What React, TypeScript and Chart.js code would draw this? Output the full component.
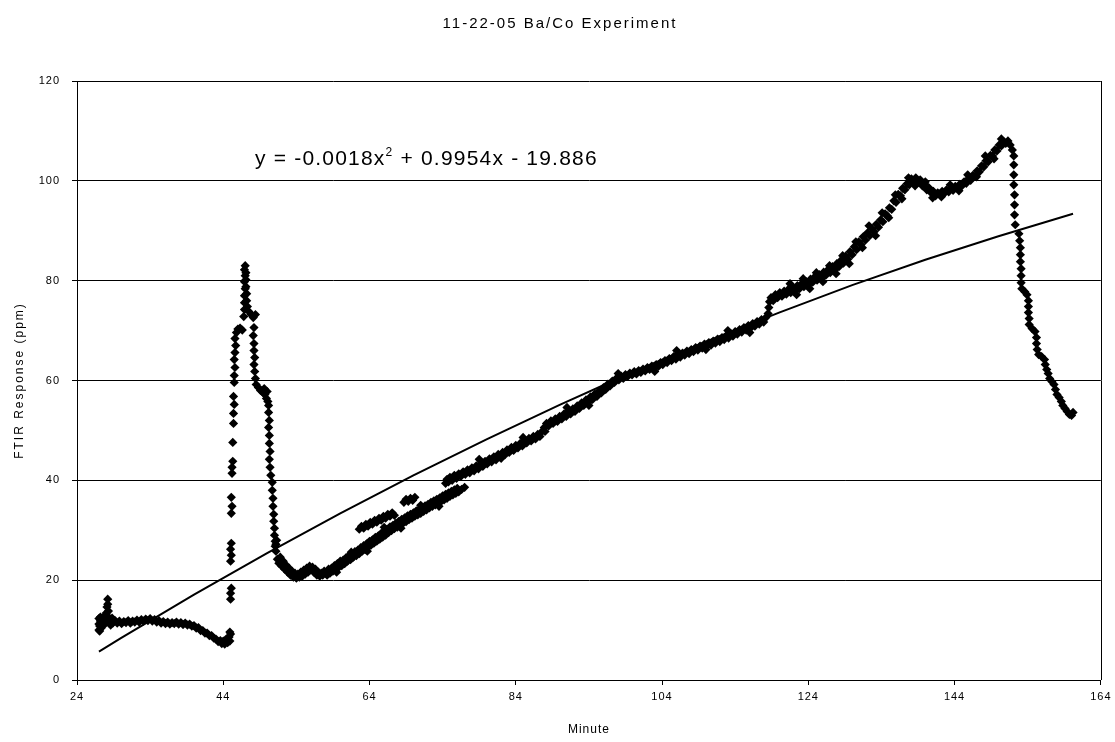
import { useEffect, useRef } from 'react';
import { Chart, registerables } from 'chart.js';

Chart.register(...registerables);

const chartTitle = '11-22-05 Ba/Co Experiment';
const xAxisTitle = 'Minute';
const yAxisTitle = 'FTIR Response (ppm)';
const equationMain = 'y = -0.0018x';
const equationSup = '2';
const equationRest = ' + 0.9954x - 19.886';
const xTicks = [24, 44, 64, 84, 104, 124, 144, 164];
const yTicks = [0, 20, 40, 60, 80, 100, 120];

type P = [number, number];

const startCluster: P[] = [
  [27.0, 10.0], [27.0, 11.2], [27.0, 12.3], [27.1, 9.8], [27.1, 10.8], [27.2, 11.8], [27.2, 12.6],
  [27.3, 10.4], [27.4, 11.4], [27.5, 12.4], [27.6, 10.9], [27.7, 11.9], [27.8, 12.8], [27.9, 11.6],
  [28.0, 13.4], [28.1, 14.6], [28.2, 16.2], [28.2, 15.2], [28.3, 13.8], [28.3, 12.6], [28.4, 11.4],
  [28.5, 12.2], [28.6, 11.0], [28.7, 11.8], [28.8, 12.4], [28.9, 11.4], [29.0, 12.0],
];

const baseline: P[] = [
  [29.2, 11.9], [29.5, 11.4], [29.8, 11.8], [30.1, 11.3], [30.4, 11.7], [30.7, 11.5], [31.0, 11.9],
  [31.3, 11.4], [31.6, 11.8], [31.9, 11.6], [32.2, 12.0], [32.5, 11.6], [32.8, 12.1], [33.1, 11.8],
  [33.4, 12.2], [33.7, 11.9], [34.0, 12.3], [34.3, 11.8], [34.6, 12.1], [34.9, 11.6], [35.2, 11.9],
  [35.5, 11.4], [35.8, 11.7], [36.1, 11.3], [36.4, 11.6], [36.7, 11.2], [37.0, 11.5], [37.3, 11.3],
  [37.6, 11.6], [37.9, 11.2], [38.2, 11.5], [38.5, 11.1], [38.8, 11.4], [39.1, 11.0], [39.4, 11.2],
  [39.7, 10.8], [40.0, 10.9], [40.3, 10.4], [40.6, 10.5], [40.9, 9.9], [41.2, 9.9], [41.5, 9.4],
  [41.8, 9.4], [42.1, 8.9], [42.4, 8.9], [42.7, 8.4], [43.0, 8.2], [43.3, 7.7], [43.6, 7.9],
  [43.8, 7.3], [44.0, 7.8], [44.2, 7.2], [44.4, 8.2], [44.6, 7.5], [44.8, 8.6], [44.9, 7.8],
  [45.0, 9.2], [44.9, 9.6],
];

const spikeRise: P[] = [
  [45.0, 16.2], [45.0, 17.4], [45.1, 18.4], [45.0, 23.8], [45.1, 25.0], [45.0, 26.2], [45.1, 27.4],
  [45.1, 33.4], [45.2, 34.8], [45.1, 36.6], [45.2, 41.4], [45.2, 42.6], [45.3, 43.8], [45.3, 47.6],
  [45.4, 51.4], [45.4, 53.4], [45.5, 55.2], [45.4, 56.8], [45.5, 59.6], [45.5, 61.0], [45.6, 62.6],
  [45.5, 64.2], [45.6, 65.6], [45.7, 67.0], [45.6, 68.4], [45.8, 69.6], [46.0, 70.3], [46.3, 70.5],
  [46.6, 70.1],
];

const spikePeak: P[] = [
  [46.8, 72.8], [46.9, 74.2], [46.9, 75.6], [46.9, 77.0], [47.0, 78.4], [46.9, 79.8], [47.0, 81.0],
  [46.9, 82.2], [47.0, 83.0], [47.1, 81.6], [47.1, 80.2], [47.1, 78.8], [47.2, 77.4], [47.2, 76.0],
  [47.3, 74.8], [47.5, 73.8], [47.8, 73.2], [48.1, 72.6], [48.4, 73.2],
];

const spikeFall: P[] = [
  [48.2, 70.6], [48.1, 69.0], [48.2, 67.4], [48.2, 66.0], [48.3, 64.6], [48.2, 63.2], [48.3, 61.8],
  [48.4, 60.4], [48.5, 59.2], [48.8, 58.6], [49.1, 58.0], [49.4, 57.6], [49.7, 57.2], [49.9, 56.4],
  [50.1, 55.8], [49.6, 58.4], [50.0, 57.8],
  [50.2, 55.0], [50.2, 53.6], [50.3, 52.0], [50.2, 50.6], [50.3, 49.0], [50.3, 47.4], [50.4, 45.8],
  [50.3, 44.2], [50.4, 42.6], [50.5, 41.0], [50.7, 39.6], [50.7, 38.0], [50.8, 36.4], [50.8, 34.8],
  [50.9, 33.2], [50.9, 31.8], [51.0, 30.4], [51.0, 29.0], [51.1, 27.8], [51.1, 26.8], [51.2, 25.8],
  [51.2, 27.2], [51.3, 28.0],
];

const valley: P[] = [
  [51.4, 24.2], [51.6, 23.4], [51.8, 24.6], [52.0, 22.8], [52.2, 23.8], [52.4, 22.2], [52.6, 23.0],
  [52.8, 21.6], [53.0, 22.4], [53.2, 21.0], [53.4, 21.8], [53.6, 20.6], [53.8, 21.4], [54.0, 20.4],
  [54.2, 21.2], [54.4, 20.6], [54.6, 21.6], [54.8, 20.8], [55.0, 22.0], [55.2, 21.2], [55.4, 22.4],
  [55.6, 21.6], [55.8, 22.8], [56.0, 22.0], [56.2, 22.6], [56.4, 21.6], [56.6, 22.2], [56.8, 21.0],
  [57.0, 21.6], [57.2, 20.8], [57.4, 21.4], [57.6, 21.0], [57.8, 21.8], [58.0, 21.4],
];

const lowerRise: P[] = [
  [58.2, 21.0], [58.4, 22.2], [58.6, 21.4], [58.8, 22.4], [59.0, 21.8], [59.2, 22.9], [59.4, 22.2],
  [59.6, 23.3], [59.8, 22.6], [60.0, 23.8], [60.2, 22.9], [60.4, 24.0], [60.6, 23.3], [60.8, 24.5],
  [61.0, 23.8], [61.2, 24.9], [61.4, 24.1], [61.6, 25.2], [61.8, 24.6], [62.0, 25.7], [62.2, 24.9],
  [62.4, 26.0], [62.6, 25.3], [62.8, 26.5], [63.0, 25.8], [63.2, 26.9], [63.4, 26.1], [63.6, 27.3],
  [63.8, 26.6], [64.0, 27.8], [64.2, 27.0], [64.4, 28.1], [64.6, 27.4], [64.8, 28.6], [65.0, 27.8],
  [65.2, 28.9], [65.4, 28.2], [65.6, 29.4], [65.8, 28.6], [66.0, 29.8], [66.2, 29.0], [66.4, 30.2],
  [66.6, 29.5], [66.8, 30.7], [67.0, 29.9], [67.2, 31.0], [67.4, 30.3], [67.6, 31.4], [67.8, 30.6],
  [68.0, 31.8], [68.2, 31.0], [68.4, 32.2], [68.6, 31.4], [68.8, 32.5], [69.0, 31.7], [69.2, 32.9],
  [69.4, 32.1], [69.6, 33.2], [69.8, 32.4], [70.0, 33.5], [70.2, 32.8], [70.4, 33.9], [70.6, 33.1],
  [70.8, 34.2], [71.0, 33.4], [71.2, 34.6], [71.4, 33.8], [71.6, 34.9], [71.8, 34.1], [72.0, 35.2],
  [72.2, 34.5], [72.4, 35.6], [72.6, 34.8], [72.8, 35.9], [73.0, 35.1], [73.2, 36.2], [73.4, 35.5],
  [73.6, 36.5], [73.8, 35.8], [74.0, 36.9], [74.2, 36.1], [74.4, 37.2], [74.6, 36.4], [74.8, 37.5],
  [75.0, 36.8], [75.2, 37.8], [75.4, 37.1], [75.6, 38.1], [75.8, 37.4], [76.0, 38.4], [76.2, 37.7],
  [76.6, 38.2], [77.0, 38.6],
];

const upperBlobs: P[] = [
  [62.6, 30.2], [62.9, 30.8], [63.2, 30.4], [63.5, 31.2], [63.8, 30.8], [64.1, 31.6], [64.4, 31.2],
  [64.7, 32.0], [65.0, 31.6], [65.3, 32.4], [65.6, 32.0], [65.9, 32.8], [66.2, 32.4], [66.5, 33.2],
  [66.8, 32.8], [67.1, 33.5], [67.4, 33.0],
  [68.7, 35.6], [69.0, 36.2], [69.3, 35.8], [69.6, 36.4], [69.9, 36.0], [70.2, 36.6],
];

const mainRise: P[] = [
  [74.4, 39.4], [74.6, 40.2], [74.8, 39.7], [75.0, 40.6], [75.3, 40.0], [75.6, 41.0], [75.9, 40.4],
  [76.2, 41.3], [76.5, 40.8], [76.8, 41.7], [77.1, 41.2], [77.4, 42.1], [77.7, 41.5], [78.0, 42.5],
  [78.3, 41.9], [78.6, 42.9], [78.9, 42.3], [79.2, 43.3], [79.5, 42.8], [79.8, 43.8], [80.1, 43.3],
  [80.4, 44.3], [80.7, 43.7], [81.0, 44.7], [81.3, 44.1], [81.6, 45.2], [81.9, 44.6], [82.2, 45.6],
  [82.5, 45.1], [82.8, 46.1], [83.1, 45.6], [83.4, 46.6], [83.7, 46.0], [84.0, 47.0], [84.3, 46.5],
  [84.6, 47.4], [84.9, 46.9], [85.2, 47.9], [85.5, 47.5], [85.8, 48.4], [86.1, 47.9], [86.4, 48.8],
  [86.7, 48.3], [87.0, 49.2], [87.3, 48.8], [87.6, 49.8], [87.9, 50.6], [88.2, 51.4], [88.5, 50.9],
  [88.8, 51.9], [89.1, 51.4], [89.4, 52.3], [89.7, 51.8], [90.0, 52.8], [90.3, 52.3], [90.6, 53.3],
  [90.9, 52.8], [91.2, 53.8], [91.5, 53.3], [91.8, 54.3], [92.1, 53.8], [92.4, 54.9], [92.7, 54.4],
  [93.0, 55.5], [93.3, 55.0], [93.6, 56.1], [93.9, 55.6], [94.2, 56.7], [94.5, 56.2], [94.8, 57.3],
  [95.1, 56.8], [95.4, 57.9], [95.7, 57.5], [96.0, 58.6], [96.3, 58.2], [96.6, 59.3], [96.9, 58.9],
  [97.2, 59.9], [97.5, 59.6], [97.8, 60.5], [98.1, 60.1], [98.4, 60.9], [98.7, 60.4], [99.0, 61.2],
  [99.3, 60.8], [99.6, 61.5], [99.9, 61.1], [100.2, 61.8], [100.5, 61.3], [100.8, 62.0], [101.1, 61.6],
  [101.4, 62.3], [101.7, 61.9], [102.0, 62.6], [102.3, 62.2], [102.6, 62.9], [102.9, 62.5], [103.2, 63.2],
  [103.5, 62.8], [103.8, 63.6], [104.1, 63.2], [104.4, 64.0], [104.7, 63.6], [105.0, 64.4], [105.3, 64.0],
  [105.6, 64.8], [105.9, 64.3], [106.2, 65.1], [106.5, 64.7], [106.8, 65.5], [107.1, 65.1], [107.4, 65.9],
  [107.7, 65.4], [108.0, 66.2], [108.3, 65.8], [108.6, 66.6], [108.9, 66.1], [109.2, 66.9], [109.5, 66.5],
  [109.8, 67.3], [110.1, 66.8], [110.4, 67.6], [110.7, 67.1], [111.0, 67.9], [111.3, 67.5], [111.6, 68.3],
  [111.9, 67.8], [112.2, 68.6], [112.5, 68.2], [112.8, 69.0], [113.1, 68.5], [113.4, 69.4], [113.7, 68.9],
  [114.0, 69.8], [114.3, 69.3], [114.6, 70.2], [114.9, 69.7], [115.2, 70.6], [115.5, 70.1], [115.8, 71.0],
  [116.1, 70.5], [116.4, 71.4], [116.7, 70.9], [117.0, 71.8], [117.3, 71.3], [117.6, 72.2], [117.9, 71.7],
  [118.2, 72.6],
];

const stepUp: P[] = [
  [118.5, 73.4], [118.6, 74.6], [118.7, 75.8], [118.9, 76.6], [119.2, 76.0], [119.5, 77.2],
];

const upperRise: P[] = [
  [119.8, 76.6], [120.1, 77.6], [120.4, 76.9], [120.7, 77.9], [121.0, 77.3], [121.3, 78.3], [121.6, 77.6],
  [121.9, 78.7], [122.2, 78.0], [122.5, 79.0], [122.8, 78.4], [123.1, 79.4], [123.4, 78.8], [123.7, 79.8],
  [124.0, 79.2], [124.3, 80.3], [124.6, 79.7], [124.9, 80.8], [125.2, 80.1], [125.5, 81.2], [125.8, 80.6],
  [126.1, 81.7], [126.4, 81.1], [126.7, 82.2], [127.0, 81.6], [127.3, 82.8], [127.6, 82.2], [127.9, 83.4],
  [128.2, 82.8], [128.5, 84.1], [128.8, 83.5], [129.1, 84.9], [129.4, 84.3], [129.7, 85.8], [130.0, 85.2],
  [130.3, 86.8], [130.6, 86.2], [130.9, 87.8], [131.2, 87.2], [131.5, 88.8], [131.8, 88.1], [132.1, 89.6],
  [132.4, 89.0], [132.7, 90.4], [133.0, 89.8], [133.3, 91.3], [133.6, 90.7], [133.9, 92.2], [134.2, 91.8],
  [134.5, 93.4], [134.8, 93.0], [135.1, 94.6], [135.4, 94.3], [135.7, 96.0], [136.0, 95.7], [136.3, 97.3],
  [136.6, 97.0], [136.9, 98.5], [137.2, 98.2], [137.5, 99.4], [137.8, 99.2], [138.1, 100.4], [138.4, 99.8],
  [138.7, 100.6], [139.0, 99.7], [139.3, 100.2], [139.6, 99.0], [139.9, 99.4], [140.2, 98.2], [140.5, 98.6],
  [140.8, 97.6], [141.1, 97.9], [141.4, 97.0], [141.7, 97.6], [142.0, 97.2], [142.3, 97.9], [142.6, 97.5],
  [142.9, 98.2], [143.2, 97.8], [143.5, 98.5], [143.8, 98.1], [144.1, 98.9], [144.4, 98.5], [144.7, 99.3],
  [145.0, 99.0], [145.3, 99.8], [145.6, 99.5], [145.9, 100.4], [146.2, 100.1], [146.5, 101.1], [146.8, 100.9],
  [147.1, 102.0], [147.4, 101.8], [147.7, 103.0], [148.0, 102.8], [148.3, 104.0], [148.6, 103.8], [148.9, 105.1],
  [149.2, 105.0], [149.5, 106.2], [149.8, 106.0], [150.1, 107.2], [150.4, 107.0], [150.7, 107.9], [151.0, 107.5],
  [151.3, 108.0], [151.6, 107.2], [151.9, 106.2],
];

const bandScatter: P[] = [
  [59.5, 21.6], [61.5, 25.6], [63.7, 25.8], [66.0, 30.6], [68.3, 30.4], [71.0, 35.0], [73.5, 34.8],
  [79.0, 44.2], [82.0, 44.4], [85.0, 48.6], [88.0, 49.8], [91.0, 54.6], [94.0, 55.0], [98.0, 61.4],
  [103.0, 61.8], [106.0, 66.0], [110.0, 66.2], [113.0, 70.0], [116.0, 69.6],
  [121.5, 79.4], [122.4, 77.2], [123.3, 80.4], [124.2, 78.4], [125.1, 81.6], [126.0, 79.8], [126.9, 83.0],
  [127.8, 81.4], [128.7, 85.0], [129.6, 83.4], [130.5, 87.8], [131.4, 86.6], [132.3, 91.0], [133.2, 89.0],
  [134.1, 93.6], [135.0, 92.6], [135.9, 97.2], [136.8, 96.4], [137.7, 100.6], [138.6, 99.0], [140.0, 99.8],
  [141.0, 96.6], [142.2, 96.8], [143.4, 99.2], [144.6, 98.0], [145.8, 101.2], [147.0, 100.8], [148.2, 105.0],
  [149.4, 104.4], [150.4, 108.4],
];

const finalDrop: P[] = [
  [152.1, 105.0], [152.1, 103.2], [152.1, 101.2], [152.1, 99.2], [152.2, 97.2], [152.2, 95.2], [152.2, 93.2],
  [152.3, 91.2], [152.8, 89.4], [152.9, 88.0], [153.0, 86.6], [153.0, 85.2], [153.0, 83.8], [153.1, 82.4],
  [153.1, 81.0], [153.1, 79.6], [153.2, 78.4], [153.6, 77.8], [153.9, 77.2], [154.1, 76.0], [154.1, 74.8],
  [154.1, 73.6], [154.2, 72.4], [154.2, 71.2], [154.6, 70.4], [155.0, 69.8], [155.2, 68.6], [155.2, 67.4],
  [155.3, 66.2], [155.5, 65.2], [155.9, 64.8], [156.3, 64.2], [156.4, 63.2], [156.6, 62.2], [156.8, 61.4],
  [157.0, 60.4], [157.3, 59.8], [157.6, 59.2], [157.8, 58.2], [158.0, 57.2], [158.3, 56.6], [158.6, 55.8],
  [158.8, 55.0], [159.1, 54.4], [159.4, 53.8], [159.7, 53.2], [160.0, 53.0], [160.2, 53.6],
];

const trendline: P[] = [
  [27.0, 5.7], [30, 8.4], [40, 17.1], [50, 25.4], [60, 33.4], [70, 41.0], [80, 48.2], [90, 55.1],
  [100, 61.7], [110, 67.8], [120, 73.6], [130, 79.1], [140, 84.2], [150, 88.9], [160.2, 93.4],
];

const FONT = '"Liberation Sans", Arial, Helvetica, sans-serif';

const toXY = (arr: P[]) => arr.map(([x, y]) => ({ x, y }));

const textPlugin = {
  id: 'textPlugin',
  beforeDraw(chart: any) {
    chart.ctx.letterSpacing = '1px';
  },
  afterDraw(chart: any) {
    const { ctx, chartArea } = chart;
    ctx.save();
    ctx.strokeStyle = '#000';
    ctx.lineWidth = 1;
    const rx = Math.round(chartArea.right) + 0.5;
    ctx.beginPath();
    ctx.moveTo(rx, chartArea.top);
    ctx.lineTo(rx, chartArea.bottom);
    ctx.stroke();

    ctx.fillStyle = '#000';
    ctx.textAlign = 'center';
    ctx.textBaseline = 'middle';
    ctx.font = `15px ${FONT}`;
    ctx.letterSpacing = '2px';
    ctx.fillText(chartTitle, 560, 24);

    ctx.font = `12px ${FONT}`;
    ctx.letterSpacing = '1px';
    ctx.fillText(xAxisTitle, (chartArea.left + chartArea.right) / 2, 730);

    ctx.save();
    ctx.translate(20, (chartArea.top + chartArea.bottom) / 2);
    ctx.rotate(-Math.PI / 2);
    ctx.letterSpacing = '2px';
    ctx.fillText(yAxisTitle, 0, 0);
    ctx.restore();

    ctx.textAlign = 'left';
    ctx.textBaseline = 'alphabetic';
    ctx.letterSpacing = '1.2px';
    let x = 255;
    const base = 165;
    ctx.font = `21px ${FONT}`;
    ctx.fillText(equationMain, x, base);
    x += ctx.measureText(equationMain).width;
    ctx.font = `12px ${FONT}`;
    ctx.fillText(equationSup, x, base - 9);
    x += ctx.measureText(equationSup).width;
    ctx.font = `21px ${FONT}`;
    ctx.fillText(equationRest, x, base);
    ctx.restore();
    ctx.letterSpacing = '0px';
  },
};

export default function App() {
  const canvasRef = useRef<HTMLCanvasElement | null>(null);

  useEffect(() => {
    if (!canvasRef.current) return;
    const scatterData = [
      ...startCluster, ...baseline, ...spikeRise, ...spikePeak, ...spikeFall, ...valley,
      ...lowerRise, ...upperBlobs, ...mainRise, ...stepUp, ...upperRise, ...bandScatter, ...finalDrop,
    ];
    const chart = new Chart(canvasRef.current, {
      type: 'scatter',
      data: {
        datasets: [
          {
            label: 'Trendline',
            data: toXY(trendline),
            showLine: true,
            borderColor: '#000',
            borderWidth: 2,
            pointRadius: 0,
            pointHoverRadius: 0,
            tension: 0,
            fill: false,
          },
          {
            label: 'FTIR Response',
            data: toXY(scatterData),
            pointStyle: 'rectRot',
            pointRadius: 4.6,
            pointHoverRadius: 4.6,
            backgroundColor: '#000',
            borderColor: '#000',
            borderWidth: 0,
            showLine: false,
          },
        ],
      },
      options: {
        responsive: false,
        animation: false,
        events: [],
        layout: { padding: { top: 81, right: 14, left: 0, bottom: 0 } },
        plugins: {
          legend: { display: false },
          title: { display: false },
          tooltip: { enabled: false },
        },
        scales: {
          x: {
            type: 'linear',
            min: 24,
            max: 164,
            afterBuildTicks: (axis: any) => {
              axis.ticks = xTicks.map((v) => ({ value: v }));
            },
            afterFit: (axis: any) => {
              axis.height = 62;
            },
            ticks: {
              color: '#000',
              font: { family: FONT, size: 11 },
              padding: 5,
              maxRotation: 0,
              autoSkip: false,
            },
            grid: {
              drawOnChartArea: false,
              drawTicks: true,
              tickLength: 5,
              color: '#000',
            },
            border: { color: '#000', width: 1 },
          },
          y: {
            type: 'linear',
            min: 0,
            max: 120,
            afterBuildTicks: (axis: any) => {
              axis.ticks = yTicks.map((v) => ({ value: v }));
            },
            afterFit: (axis: any) => {
              axis.width = 77;
            },
            ticks: {
              color: '#000',
              font: { family: FONT, size: 11 },
              padding: 12,
              autoSkip: false,
            },
            grid: {
              color: '#000',
              lineWidth: 1,
              drawTicks: true,
              tickLength: 5,
            },
            border: { color: '#000', width: 1 },
          },
        },
      },
      plugins: [textPlugin],
    });
    return () => chart.destroy();
  }, []);

  return (
    <div style={{ position: 'absolute', left: 0, top: 0, width: 1115, height: 742, background: '#fff' }}>
      <canvas ref={canvasRef} width={1115} height={742} style={{ display: 'block' }} />
    </div>
  );
}
